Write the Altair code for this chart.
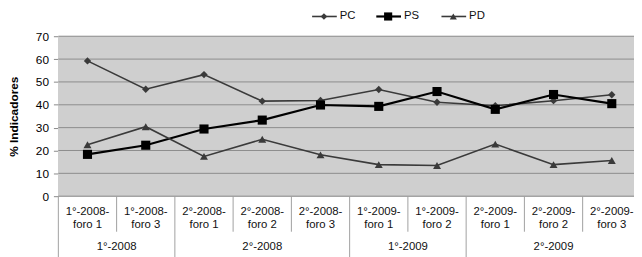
import altair as alt
import pandas as pd

# ---- data ----
cat_line1 = ["1°-2008-", "1°-2008-", "2°-2008-", "2°-2008-", "2°-2008-",
             "1°-2009-", "1°-2009-", "2°-2009-", "2°-2009-", "2°-2009-"]
cat_line2 = ["foro 1", "foro 3", "foro 1", "foro 2", "foro 3",
             "foro 1", "foro 2", "foro 1", "foro 2", "foro 3"]
groups = ["1°-2008", "2°-2008", "1°-2009", "2°-2009"]
group_sizes = [2, 3, 2, 3]
pc_values = [59.2, 46.8, 53.2, 41.6, 41.9, 46.7, 41.1, 39.6, 41.8, 44.4]
ps_values = [18.3, 22.3, 29.4, 33.3, 39.9, 39.3, 45.8, 38.0, 44.5, 40.5]
pd_values = [22.5, 30.4, 17.4, 24.9, 18.1, 13.8, 13.4, 22.8, 13.8, 15.6]
y_ticks = [0, 10, 20, 30, 40, 50, 60, 70]

# ---- tables ----
idx = list(range(len(cat_line1)))
series_data = {"PC": pc_values, "PS": ps_values, "PD": pd_values}
df = pd.DataFrame(
    [{"idx": i, "series": s, "value": v}
     for s, vals in series_data.items() for i, v in zip(idx, vals)]
)
cats = pd.DataFrame({"idx": idx, "l1": cat_line1, "l2": cat_line2})
ticks_df = pd.DataFrame({"value": y_ticks})

grp_rows, start = [], 0
for g, n in zip(groups, group_sizes):
    grp_rows.append({"group": g, "center": start + (n - 1) / 2, "left": start - 0.5})
    start += n
grp = pd.DataFrame(grp_rows)
group_edges = set(grp["left"].tolist())
inner_seps = pd.DataFrame({"pos": [i + 0.5 for i in idx[:-1] if (i + 0.5) not in group_edges]})
outer_seps = pd.DataFrame({"pos": grp["left"].tolist()})

W, H = 583, 162
step = 59.0
xscale = alt.Scale(domain=[-0.5, -0.5 + W / step], nice=False, zero=False)
yscale = alt.Scale(domain=[0, 70], nice=False)
X = alt.X("idx:Q", scale=xscale, axis=None)
Y = alt.Y(
    "value:Q",
    scale=yscale,
    axis=alt.Axis(
        values=y_ticks, title="% Indicadores", titleFontSize=12, titleFontWeight="bold",
        titleColor="black", titlePadding=15, labelFontSize=12, labelColor="black",
        labelPadding=5, labelFlush=False, tickSize=5, tickColor="#888888",
        domainColor="#888888", grid=False,
    ),
)

styles = {
    "PC": dict(color="#3a3a3a", width=1.6, shape="diamond", size=55),
    "PS": dict(color="#000000", width=2.2, shape="square", size=85),
    "PD": dict(color="#3a3a3a", width=1.6, shape="triangle-up", size=65),
}

layers = []
# plot background and gridlines
layers.append(alt.Chart(ticks_df).mark_rect(color="#CFCFCF").encode(
    x=alt.value(0), x2=alt.value(W), y=alt.value(0), y2=alt.value(H)))
layers.append(alt.Chart(ticks_df).mark_rule(color="#8C8C8C", strokeWidth=1).encode(
    y=Y, x=alt.value(0), x2=alt.value(W)))

for s, st in styles.items():
    d = df[df.series == s]
    layers.append(alt.Chart(d).mark_line(color=st["color"], strokeWidth=st["width"]).encode(x=X, y=Y))
for s, st in styles.items():
    d = df[df.series == s]
    layers.append(
        alt.Chart(d).mark_point(filled=True, opacity=1, shape=st["shape"], size=st["size"],
                                color=st["color"]).encode(x=X, y=Y)
    )

# lower category axis
sep_color = "#A0A0A0"
layers.append(alt.Chart(inner_seps).mark_rule(color=sep_color, strokeWidth=1).encode(
    x=alt.X("pos:Q", scale=xscale, axis=None), y=alt.value(H), y2=alt.value(H + 36)))
layers.append(alt.Chart(outer_seps).mark_rule(color=sep_color, strokeWidth=1).encode(
    x=alt.X("pos:Q", scale=xscale, axis=None), y=alt.value(H), y2=alt.value(H + 62)))
txt = dict(font="Liberation Sans", fontSize=11.5, color="#111111", align="center", baseline="middle")
layers.append(alt.Chart(cats).mark_text(**txt).encode(x=X, y=alt.value(178), text="l1:N"))
layers.append(alt.Chart(cats).mark_text(**txt).encode(x=X, y=alt.value(191), text="l2:N"))
layers.append(alt.Chart(grp).mark_text(**txt).encode(
    x=alt.X("center:Q", scale=xscale, axis=None), y=alt.value(213), text="group:N"))

# manual legend
legend_pos = {"PC": 257, "PS": 322, "PD": 388}
for s, st in styles.items():
    x0 = legend_pos[s]
    ld = pd.DataFrame({"s": [s]})
    layers.append(alt.Chart(ld).mark_rule(color=st["color"], strokeWidth=st["width"]).encode(
        x=alt.value(x0), x2=alt.value(x0 + 25), y=alt.value(-20)))
    layers.append(alt.Chart(ld).mark_point(filled=True, opacity=1, shape=st["shape"],
                                           size=st["size"] * 0.8, color=st["color"]).encode(
        x=alt.value(x0 + 12), y=alt.value(-20)))
    layers.append(alt.Chart(ld).mark_text(font="Liberation Sans", fontSize=11.5, color="#111111",
                                          align="left", baseline="middle").encode(
        x=alt.value(x0 + 28), y=alt.value(-20), text="s:N"))

chart = alt.layer(*layers).properties(
    width=W, height=H,
    autosize=alt.AutoSizeParams(type="none"),
    padding={"left": 51, "top": 27, "right": 0, "bottom": 60},
).configure(font="Liberation Sans").configure_view(strokeWidth=0)

chart.save("out.html", embed_options={"renderer": "svg", "actions": False})
